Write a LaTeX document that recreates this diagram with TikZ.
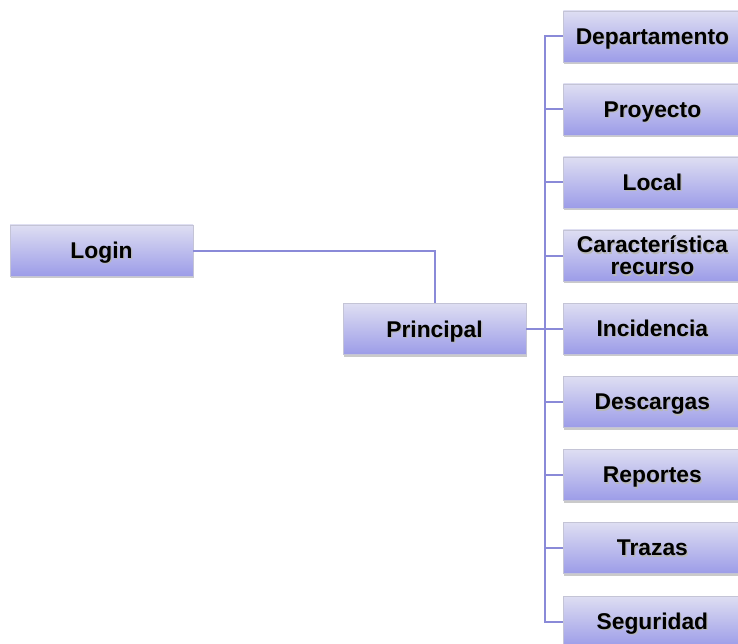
\documentclass[tikz,border=0pt]{standalone}
\usepackage{fontspec}
\setmainfont{Liberation Sans}
\usetikzlibrary{shadows}
\definecolor{boxtop}{HTML}{DEDEF2}
\definecolor{boxbot}{HTML}{9C9CE8}
\definecolor{boxedge}{HTML}{C4C4D6}
\definecolor{linkc}{HTML}{8A8AD8}
\newcommand{\shtxt}[1]{\leavevmode\rlap{\kern1.2pt\raisebox{-1.2pt}{\color{black!28}#1}}#1}
\tikzset{
  menubox/.style={draw=boxedge, line width=0.8pt, top color=boxtop, bottom color=boxbot,
    minimum width=183pt, minimum height=51pt, inner sep=0pt, align=center, text depth=0pt,
    font=\fontsize{22.8}{23}\selectfont\bfseries,
    drop shadow={shadow xshift=1pt, shadow yshift=-2pt, opacity=0.35, fill=black!60}},
  subbox/.style={menubox, minimum width=178pt, anchor=west},
  link/.style={draw=linkc, line width=2pt}
}
\begin{document}
\begin{tikzpicture}[x=1pt,y=-1pt]
\useasboundingbox (0,0) rectangle (738,644);
\node[menubox] (login) at (101.5,250.5) {\shtxt{Login}};
\node[menubox] (principal) at (434.5,329) {\shtxt{Principal}};
\node[subbox] (dep) at (563,36.5) {\shtxt{Departamento}};
\node[subbox] (pro) at (563,109.5) {\shtxt{Proyecto}};
\node[subbox] (loc) at (563,182.5) {\shtxt{Local}};
\node[subbox] (car) at (563,255.5) {\shtxt{Característica}\\[-1pt]\shtxt{recurso}};
\node[subbox] (inc) at (563,328.5) {\shtxt{Incidencia}};
\node[subbox] (des) at (563,402) {\shtxt{Descargas}};
\node[subbox] (rep) at (563,475) {\shtxt{Reportes}};
\node[subbox] (tra) at (563,548) {\shtxt{Trazas}};
\node[subbox] (seg) at (563,621.5) {\shtxt{Seguridad}};
% Login to Principal
\draw[link] (login.east) -| (principal.north);
% trunk line with branches
\coordinate (trunktop) at (545,0 |- dep.west);
\coordinate (trunkbot) at (545,0 |- seg.west);
\draw[link] (dep.west) -- (trunktop) -- (trunkbot) -- (seg.west);
\draw[link] (principal.east) -- (545,0 |- principal.east);
\foreach \n in {pro,loc,car,inc,des,rep,tra}
  \draw[link] (\n.west) -- (545,0 |- \n.west);
\end{tikzpicture}
\end{document}
